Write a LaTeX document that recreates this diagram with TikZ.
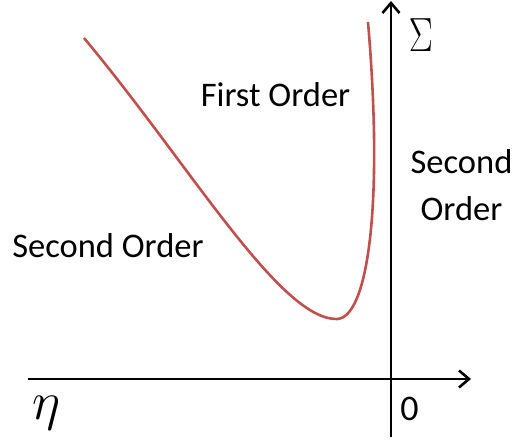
\RequirePackage{fix-cm}
\documentclass[tikz,border=0pt]{standalone}
\usepackage{fontspec}
\setmainfont{Carlito}
\usetikzlibrary{arrows.meta}
\definecolor{curvered}{RGB}{192,80,77}
\begin{document}
\begin{tikzpicture}[x=1pt,y=-1pt,
  axis/.style={line width=2.6pt,-{Straight Barb[length=10pt,width=17pt,line width=2.6pt]}},
  lbl/.style={font=\fontsize{34.5}{47}\selectfont,inner sep=0pt,align=center,anchor=base},
  sym/.style={inner sep=0pt}]
\useasboundingbox (0,0) rectangle (514,441);
\coordinate (xs) at (28,379);
\coordinate (xe) at (471,379);
\coordinate (ys) at (391,437);
\coordinate (ye) at (391,1);
\draw[axis] (xs) -- (xe);
\draw[axis] (ys) -- (ye);
\draw[curvered,line width=2.6pt] (84,38) .. controls (190,165) and (280,320) .. (337,319)
  .. controls (367,318) and (384,210) .. (368,22);
\node[lbl] (fo) at (275.5,107) {First Order};
\node[lbl] (so1) at (108,257) {Second Order};
\node[lbl] (so2) at (461.5,220) {Second\\Order};
\node[sym,xscale=0.75,font=\fontsize{48}{52}\selectfont] (sig) at (421,35) {$\Sigma$};
\node[sym,font=\fontsize{54}{58}\selectfont] (eta) at (47,413) {$\eta$};
\node[inner sep=0pt,anchor=base,font=\fontsize{36}{40}\selectfont] (zero) at (409.5,420) {0};
\end{tikzpicture}
\end{document}
